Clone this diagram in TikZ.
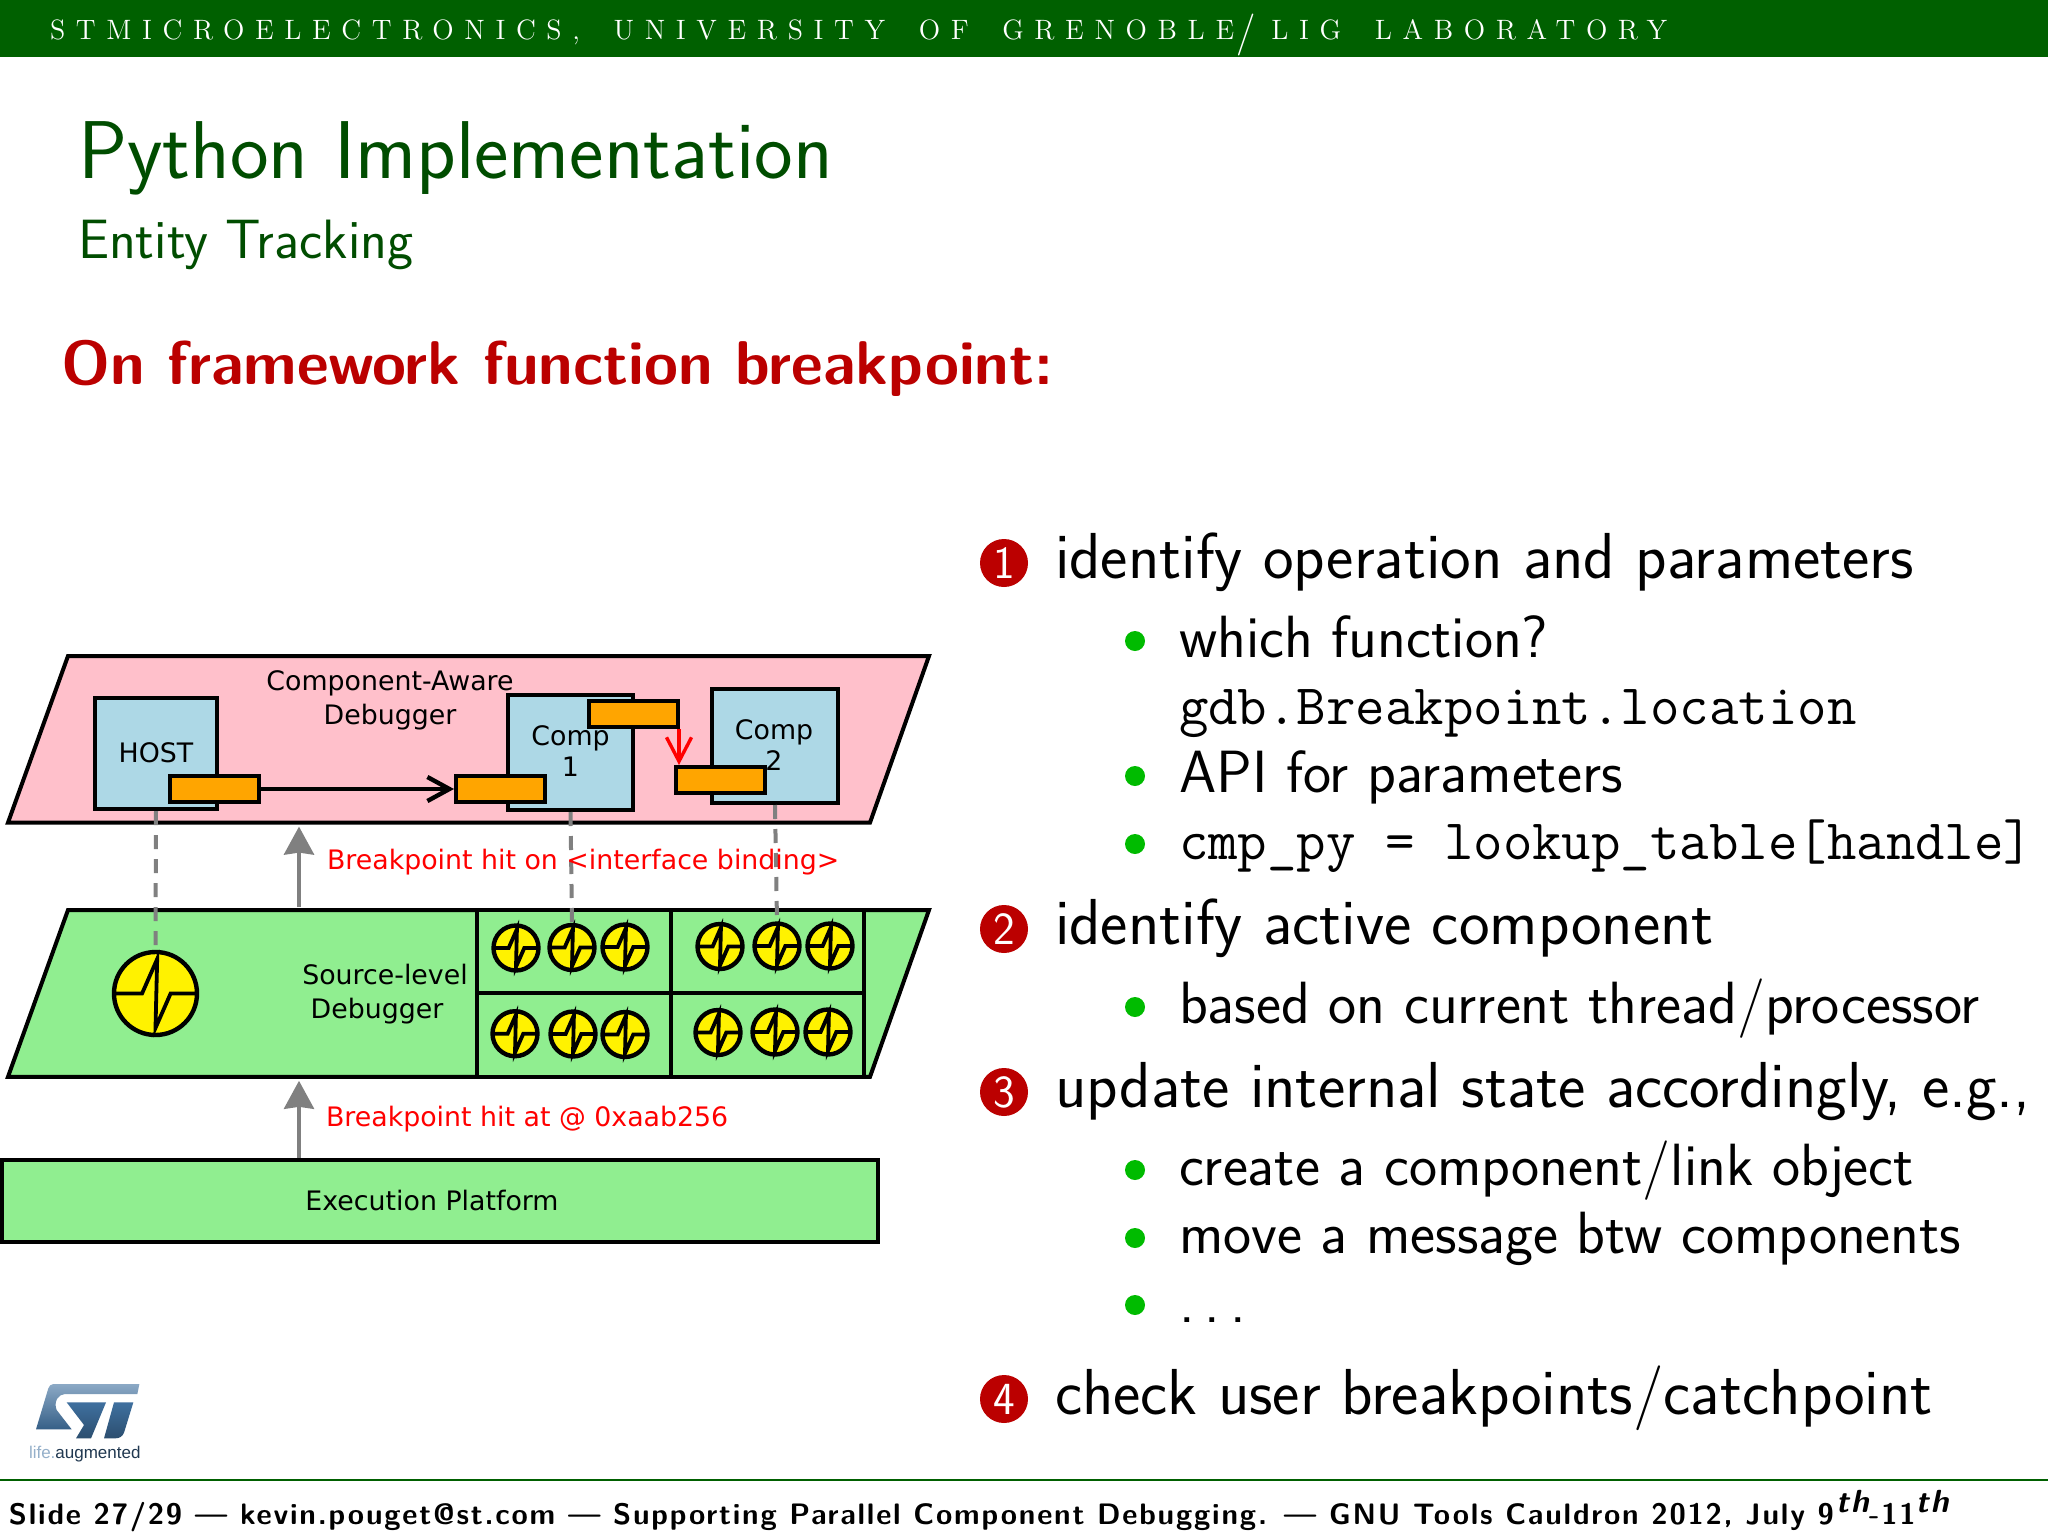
\documentclass[tikz,border=0pt]{standalone}
\usepackage{fontspec}
\usetikzlibrary{arrows.meta,shapes.geometric}
\newfontfamily\dv{DejaVu Sans}
\newfontfamily\topfont[LetterSpace=38,WordSpace=1.7]{Latin Modern Roman}
\newfontfamily\footfont[LetterSpace=6]{Latin Modern Sans}
\newcommand{\fs}[1]{\fontsize{#1pt}{#1pt}\selectfont}
\definecolor{bar}{HTML}{006000}
\definecolor{titlegreen}{HTML}{004D00}
\definecolor{alertred}{HTML}{BB0000}
\definecolor{bulletgreen}{HTML}{00BB00}
\definecolor{lpink}{HTML}{FFC0CB}
\definecolor{lgreen}{HTML}{90EE90}
\definecolor{lblue}{HTML}{ADD8E6}
\definecolor{orangebox}{HTML}{FFA500}
\definecolor{logoblue}{HTML}{3F709F}
\tikzset{
  txt/.style={anchor=base west,inner sep=0pt,outer sep=0pt},
  main/.style={txt,font=\sffamily\fs{32.5}},
  sub/.style={txt,font=\sffamily\fs{29.8}},
  mono/.style={txt,font=\ttfamily\fs{28.6}},
  dg/.style={inner sep=0pt,font=\dv\fs{13.4},align=center,text=black},
  lab/.style={txt,font=\dv\fs{13.4},text=red},
  solid box/.style={draw=black,line width=2pt,rectangle,inner sep=0pt},
  bluebox/.style={solid box,fill=lblue,minimum width=#1},
  orbox/.style={solid box,fill=orangebox,minimum width=44.5pt,minimum height=13pt},
  cell/.style={solid box,fill=lgreen},
  num/.style={circle,fill=alertred,text=white,inner sep=0pt,minimum size=24pt,font=\sffamily\fs{23}},
  dotb/.style={circle,fill=bulletgreen,inner sep=0pt,minimum size=10pt},
  clk/.style={circle,draw=black,fill=yellow,inner sep=0pt,line width=2.2pt,minimum size=22.5pt},
  bigclk/.style={circle,draw=black,fill=yellow,inner sep=0pt,line width=2.2pt,minimum size=41.5pt},
  grayarrow/.style={draw=gray,line width=1.9pt,-{Stealth[length=14pt,width=15pt,inset=1pt]}},
  graydash/.style={draw=gray,line width=2pt,dash pattern=on 7pt off 5pt},
}
\newcommand{\pulse}[3]{\draw[shift={(#1.center)},line width=#3,line join=miter,miter limit=10]
  (-#2,0) -- ({-.32*#2},0) -- ({.04*#2},{-.82*#2}) -- (0,{.82*#2}) -- ({.36*#2},0) -- (#2,0);}
\newcommand{\smallclk}[3]{\node[clk] (#1) at (#2,#3) {}; \pulse{#1}{23}{1.9pt}}
\begin{document}
\begin{tikzpicture}[x=0.5pt,y=-0.5pt]
\useasboundingbox (0,0) rectangle (2048,1536);
\fill[white] (0,0) rectangle (2048,1536);
% header
\fill[bar] (0,0) rectangle (2048,57);
\node[txt,text=white,font=\topfont\fs{14}] (head) at (50,40) {STMICROELECTRONICS, UNIVERSITY OF GRENOBLE\hspace{1pt}\raisebox{-2.5pt}{\fs{21}/}\hspace{8pt}LIG LABORATORY};
\node[txt,text=titlegreen,font=\sffamily\fs{41}] (title) at (78,178) {Python Implementation};
\node[txt,text=titlegreen,font=\sffamily\fs{27.7}] (subtitle) at (78,258) {Entity Tracking};
\node[txt,text=alertred,font=\sffamily\bfseries\fs{30.9}] (heading) at (61,384) {On framework function breakpoint:};
% pink layer
\draw[fill=lpink,line width=2pt,line join=miter] (68,656) -- (929,656) -- (870,822.6) -- (8,822.6) -- cycle;
\node[dg] (cad) at (390,700) {Component-Aware\\[3.5pt]Debugger};
\node[bluebox=61pt,minimum height=55.4pt] (host) at (156,753.7) {};
\node[dg] at (156,752.6) (hostlab) {HOST};
\node[bluebox=62.5pt,minimum height=57.5pt] (comp1) at (570.5,752.5) {};
\node[dg] at (570.5,751) (c1lab) {Comp\\[2.5pt]1};
\node[bluebox=63pt,minimum height=57pt] (comp2) at (775,746) {};
\node[dg] at (774,745) (c2lab) {Comp\\[2.5pt]2};
\node[orbox] (hor) at (214.5,789) {};
\node[orbox] (c1l) at (500.5,789) {};
\node[orbox] (c1t) at (633.5,714) {};
\node[orbox] (c2l) at (720.5,780) {};
\draw[line width=2.2pt,-{Straight Barb[length=11pt,width=12pt]}] (hor.east) -- (c1l.west);
\draw[red,line width=1.7pt,-{Straight Barb[length=12pt,width=12.5pt]}] ([xshift=-0.5pt]c1t.south east) -- ([xshift=-0.5pt]c1t.south east |- c2l.north);
% green layer
\draw[fill=lgreen,line width=2pt,line join=miter] (68,910) -- (929,910) -- (870,1076.8) -- (8,1076.8) -- cycle;
\node[cell,minimum width=97pt,minimum height=41.3pt] (g1) at (574,951.3) {};
\node[cell,minimum width=96.5pt,minimum height=41.3pt] (g2) at (767.5,951.3) {};
\node[cell,minimum width=97pt,minimum height=42.1pt] (g3) at (574,1034.7) {};
\node[cell,minimum width=96.5pt,minimum height=42.1pt] (g4) at (767.5,1034.7) {};
\node[dg] (sld) at (385,994) {Source-level\\[3.5pt]\hspace*{-8pt}Debugger};
\node[bigclk] (big) at (155.5,993.5) {};
\pulse{big}{42}{1.9pt}
\smallclk{a1}{516}{948}\smallclk{a2}{572}{947.5}\smallclk{a3}{625}{947}
\smallclk{b1}{720}{946.5}\smallclk{b2}{777}{946}\smallclk{b3}{830}{946}
\smallclk{c1}{515}{1033.7}\smallclk{c2}{573}{1034}\smallclk{c3}{625}{1034.5}
\smallclk{d1}{718}{1032.5}\smallclk{d2}{775}{1032}\smallclk{d3}{828}{1032}
% execution platform
\node[cell,minimum width=438pt,minimum height=41pt] (exec) at (440,1201) {};
\node[dg] (execlab) at (432,1200) {Execution Platform};
% connectors
\draw[graydash] (host.south) -- (big.north);
\draw[graydash] (comp1.south) -- (a2.north);
\draw[graydash] (comp2.south) -- (b2.north);
\coordinate (u1) at (299,907);
\coordinate (u2) at (299,822.6);
\coordinate (u3) at (299,1158);
\coordinate (u4) at (299,1076.8);
\draw[grayarrow] (u1) -- ([yshift=-2pt]u2);
\draw[grayarrow] (u3) -- ([yshift=-2pt]u4);
\node[lab] (l1) at (327,869.5) {Breakpoint hit on <interface binding>};
\node[lab] (l2) at (326,1126) {Breakpoint hit at @ 0xaab256};
% list
\node[num] (n1) at (1004,563) {1};
\node[main] (t1) at (1055,578) {identify operation and parameters};
\node[dotb] (b11) at (1135,641) {};
\node[sub] (t11) at (1179,657) {which function?};
\node[mono] (t12) at (1179,724) {gdb.Breakpoint.location};
\node[dotb] (b13) at (1135,776) {};
\node[sub] (t13) at (1179,792) {API for parameters};
\node[dotb] (b14) at (1135,844) {};
\node[mono] (t14) at (1179,859.5) {cmp\_py = lookup\_table[handle]};
\node[num] (n2) at (1004,929) {2};
\node[main] (t2) at (1055,944) {identify active component};
\node[dotb] (b21) at (1135,1007) {};
\node[sub] (t21) at (1179,1023) {based on current thread/processor};
\node[num] (n3) at (1004,1092) {3};
\node[main] (t3) at (1055,1107) {update internal state accordingly, e.g.,};
\node[dotb] (b31) at (1135,1170) {};
\node[sub] (t31) at (1179,1185) {create a component/link object};
\node[dotb] (b32) at (1135,1238) {};
\node[sub] (t32) at (1179,1253) {move a message btw components};
\node[dotb] (b33) at (1135,1305) {};
\node[sub] (t33) at (1179,1322) {.\hspace{5pt}.\hspace{5pt}.};
\node[num] (n4) at (1004,1399) {4};
\node[main] (t4) at (1055,1414) {check user breakpoints/catchpoint};
% logo
\begin{scope}[shift={(20,1370)},x=0.1667pt,y=-0.1667pt]
\shade[top color=logoblue!60!white,bottom color=logoblue!85!black] (358,42) -- (100,42) .. controls (92,42) and (88,48) .. (85,55) -- (48,178) -- (155,178) -- (110,120) .. controls (100,95) and (115,72) .. (135,72) -- (352,72) -- cycle;
\shade[top color=logoblue,bottom color=logoblue!70!black] (140,97) -- (258,97) -- (213,205) -- (168,205) -- (192,165) -- cycle;
\shade[top color=logoblue,bottom color=logoblue!70!black] (282,97) -- (340,97) -- (312,188) .. controls (307,200) and (298,205) .. (285,205) -- (252,205) -- cycle;
\end{scope}
\node[txt,font=\fontspec{Liberation Sans}\fs{8.5}] (life) at (29,1458) {\textcolor{logoblue!55!white}{life.}\textcolor{logoblue!50!black}{augmented}};
% footer
\draw[bar,line width=0.8pt] (0,1480) -- (2048,1480);
\node[txt,font=\footfont\bfseries\fs{14.8}] (foot) at (9,1524) {Slide 27/29 — kevin.pouget@st.com — Supporting Parallel Component Debugging. — GNU Tools Cauldron 2012, July 9\hspace{1pt}\raisebox{6pt}{\fs{16}\itshape th}-11\raisebox{6pt}{\fs{16}\itshape th}};
\end{tikzpicture}
\end{document}
